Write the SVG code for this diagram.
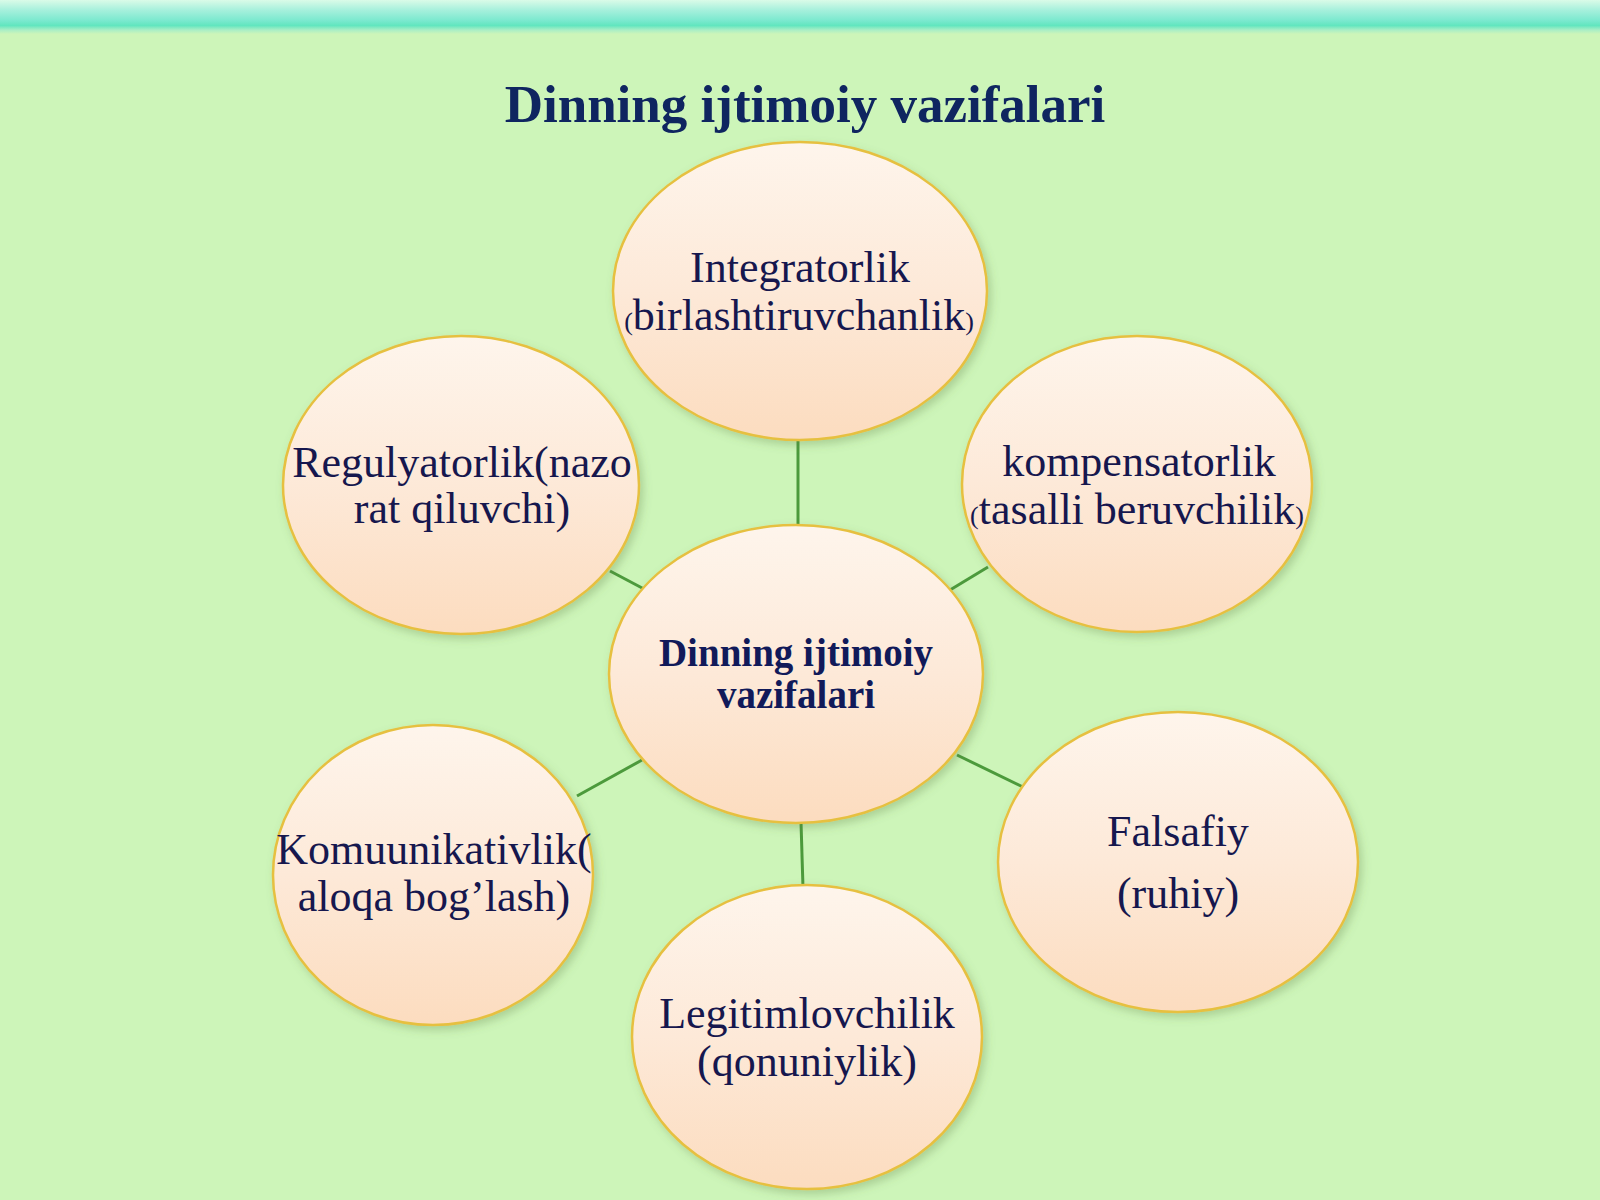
<svg xmlns="http://www.w3.org/2000/svg" width="1600" height="1200" viewBox="0 0 1600 1200">
  <defs>
    <linearGradient id="topBand" x1="0" y1="0" x2="0" y2="1">
      <stop offset="0" stop-color="#dafbe8"/>
      <stop offset="0.3" stop-color="#a6f0dc"/>
      <stop offset="0.6" stop-color="#7be9cf"/>
      <stop offset="0.75" stop-color="#62e6bf"/>
      <stop offset="0.88" stop-color="#a8eec6"/>
      <stop offset="1" stop-color="#cdf5b9"/>
    </linearGradient>
    <linearGradient id="bubble" x1="0" y1="0" x2="0" y2="1">
      <stop offset="0" stop-color="#fef5ec"/>
      <stop offset="0.5" stop-color="#fde9d8"/>
      <stop offset="1" stop-color="#fcdcbf"/>
    </linearGradient>
    <filter id="shadow" x="-20%" y="-20%" width="140%" height="140%">
      <feDropShadow dx="3" dy="4" stdDeviation="4" flood-color="#5a7a40" flood-opacity="0.3"/>
    </filter>
  </defs>
  <style>
    .node ellipse { fill: url(#bubble); stroke: #e6c040; stroke-width: 2.5; filter: url(#shadow); }
    .label { font-family: "Liberation Serif", "Times New Roman", serif; font-size: 44px; fill: #16174e; text-anchor: middle; }
    .small { font-size: 26px; }
    .bold { font-weight: bold; font-size: 39px; fill: #111a5a; }
    .title { font-family: "Liberation Serif", "Times New Roman", serif; font-weight: bold; font-size: 53px; fill: #0f2560; text-anchor: middle; }
    .conn line { stroke: #4c9a3c; stroke-width: 3; }
  </style>

  <rect x="0" y="0" width="1600" height="1200" fill="#cdf5b9"/>
  <rect x="0" y="0" width="1600" height="34" fill="url(#topBand)"/>

  <text class="title" x="805" y="122">Dinning ijtimoiy vazifalari</text>

  <g id="connectors" class="conn">
    <line x1="798" y1="441" x2="798" y2="527"/>
    <line x1="610" y1="571" x2="644" y2="589"/>
    <line x1="950" y1="590" x2="988" y2="567"/>
    <line x1="577" y1="796" x2="642" y2="760"/>
    <line x1="957" y1="755" x2="1023" y2="787"/>
    <line x1="801" y1="822" x2="803" y2="888"/>
  </g>

  <g id="node-integratorlik" class="node">
    <ellipse cx="800" cy="291" rx="187" ry="149"/>
    <text class="label" x="800" y="282">Integratorlik</text>
    <text class="label" x="799" y="330"><tspan class="small">(</tspan>birlashtiruvchanlik<tspan class="small">)</tspan></text>
  </g>

  <g id="node-regulyatorlik" class="node">
    <ellipse cx="461" cy="485" rx="178" ry="149"/>
    <text class="label" x="462" y="477">Regulyatorlik(nazo</text>
    <text class="label" x="462" y="523">rat qiluvchi)</text>
  </g>

  <g id="node-kompensatorlik" class="node">
    <ellipse cx="1137" cy="484" rx="175" ry="148"/>
    <text class="label" x="1139" y="476">kompensatorlik</text>
    <text class="label" x="1137" y="524"><tspan class="small">(</tspan>tasalli beruvchilik<tspan class="small">)</tspan></text>
  </g>

  <g id="node-center" class="node">
    <ellipse cx="796" cy="674" rx="187" ry="149"/>
    <text class="label bold" x="796" y="666">Dinning ijtimoiy</text>
    <text class="label bold" x="796" y="708">vazifalari</text>
  </g>

  <g id="node-komuunikativlik" class="node">
    <ellipse cx="433" cy="875" rx="160" ry="150"/>
    <text class="label" x="434" y="864">Komuunikativlik(</text>
    <text class="label" x="434" y="911">aloqa bog’lash)</text>
  </g>

  <g id="node-falsafiy" class="node">
    <ellipse cx="1178" cy="862" rx="180" ry="150"/>
    <text class="label" x="1178" y="846">Falsafiy</text>
    <text class="label" x="1178" y="908">(ruhiy)</text>
  </g>

  <g id="node-legitimlovchilik" class="node">
    <ellipse cx="807" cy="1037" rx="175" ry="152"/>
    <text class="label" x="807" y="1028">Legitimlovchilik</text>
    <text class="label" x="807" y="1076">(qonuniylik)</text>
  </g>
</svg>
